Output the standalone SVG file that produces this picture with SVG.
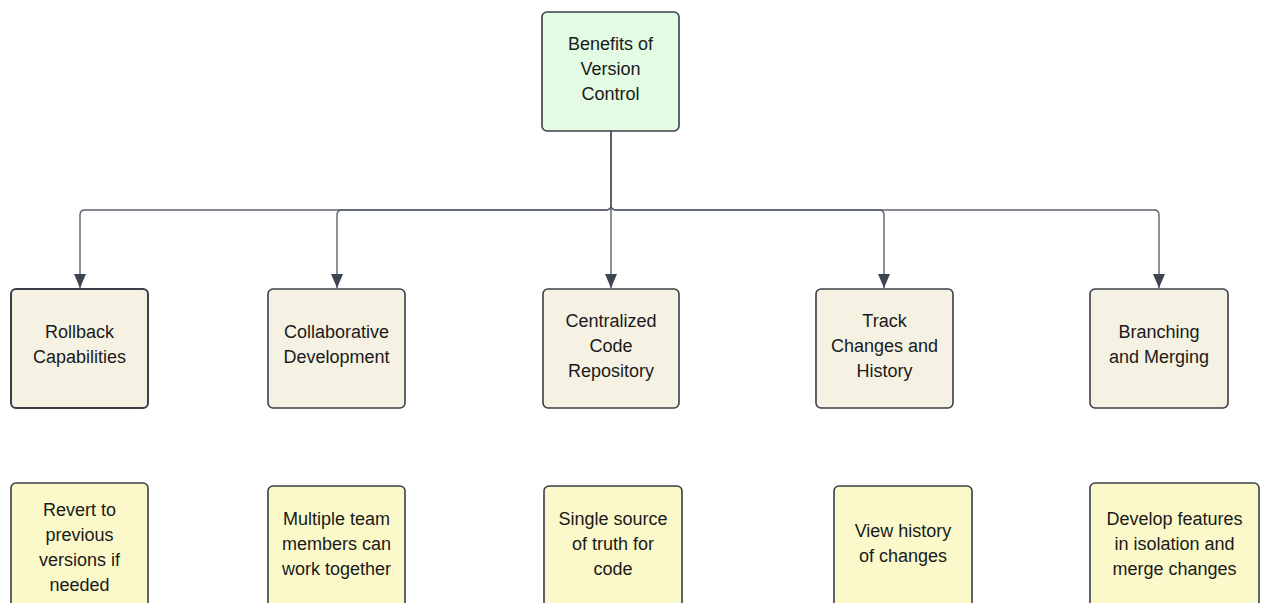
<svg xmlns="http://www.w3.org/2000/svg" width="1261" height="603" viewBox="0 0 1261 603">
<style>
.box{stroke:#3a3f47;stroke-width:1.6}
.root{fill:#e3fae3}
.mid{fill:#f5f2e3}
.leaf{fill:#fbf9c9}
.t{font-family:"Liberation Sans",Arial,sans-serif;font-size:18px;fill:#1a1a1a;text-anchor:middle}
.c{fill:none;stroke:#5a616c;stroke-width:1.4}
</style>
<defs>
<marker id="ah" markerWidth="14" markerHeight="12" refX="14" refY="6" orient="auto" markerUnits="userSpaceOnUse" viewBox="0 0 14 12">
<path d="M0,0 L14,6 L0,12 Z" fill="#3d4553"/>
</marker>
</defs>
<rect width="1261" height="603" fill="#ffffff"/>
<g id="connectors">
<path class="c" d="M611,131 V205 Q611,210 606,210 H85 Q80,210 80,215 V288" marker-end="url(#ah)"/>
<path class="c" d="M611,131 V205 Q611,210 606,210 H342 Q337,210 337,215 V288" marker-end="url(#ah)"/>
<path class="c" d="M611,131 V288" marker-end="url(#ah)"/>
<path class="c" d="M611,131 V205 Q611,210 616,210 H879 Q884,210 884,215 V288" marker-end="url(#ah)"/>
<path class="c" d="M611,131 V205 Q611,210 616,210 H1154 Q1159,210 1159,215 V288" marker-end="url(#ah)"/>
</g>
<g id="root">
<rect class="box root" x="542" y="12" width="137" height="119" rx="5"/>
<text class="t" x="610.5" y="50">Benefits of</text>
<text class="t" x="610.5" y="75">Version</text>
<text class="t" x="610.5" y="100">Control</text>
</g>
<g id="rollback">
<rect class="box mid" x="11" y="289" width="137" height="119" rx="5" style="stroke-width:2"/>
<text class="t" x="79.5" y="338">Rollback</text>
<text class="t" x="79.5" y="363">Capabilities</text>
</g>
<g id="collab">
<rect class="box mid" x="268" y="289" width="137" height="119" rx="5"/>
<text class="t" x="336.5" y="338">Collaborative</text>
<text class="t" x="336.5" y="363">Development</text>
</g>
<g id="central">
<rect class="box mid" x="543" y="289" width="136" height="119" rx="5"/>
<text class="t" x="611" y="327">Centralized</text>
<text class="t" x="611" y="352">Code</text>
<text class="t" x="611" y="377">Repository</text>
</g>
<g id="track">
<rect class="box mid" x="816" y="289" width="137" height="119" rx="5"/>
<text class="t" x="884.5" y="327">Track</text>
<text class="t" x="884.5" y="352">Changes and</text>
<text class="t" x="884.5" y="377">History</text>
</g>
<g id="branching">
<rect class="box mid" x="1090" y="289" width="138" height="119" rx="5"/>
<text class="t" x="1159" y="338">Branching</text>
<text class="t" x="1159" y="363">and Merging</text>
</g>
<g id="revert">
<rect class="box leaf" x="11" y="483" width="137" height="140" rx="5"/>
<text class="t" x="79.5" y="516">Revert to</text>
<text class="t" x="79.5" y="541">previous</text>
<text class="t" x="79.5" y="566">versions if</text>
<text class="t" x="79.5" y="591">needed</text>
</g>
<g id="multiple">
<rect class="box leaf" x="268" y="486" width="137" height="140" rx="5"/>
<text class="t" x="336.5" y="525">Multiple team</text>
<text class="t" x="336.5" y="550">members can</text>
<text class="t" x="336.5" y="575">work together</text>
</g>
<g id="single">
<rect class="box leaf" x="544" y="486" width="138" height="140" rx="5"/>
<text class="t" x="613" y="525">Single source</text>
<text class="t" x="613" y="550">of truth for</text>
<text class="t" x="613" y="575">code</text>
</g>
<g id="view">
<rect class="box leaf" x="834" y="486" width="138" height="140" rx="5"/>
<text class="t" x="903" y="537">View history</text>
<text class="t" x="903" y="562">of changes</text>
</g>
<g id="develop">
<rect class="box leaf" x="1090" y="483" width="169" height="140" rx="5"/>
<text class="t" x="1174.5" y="525">Develop features</text>
<text class="t" x="1174.5" y="550">in isolation and</text>
<text class="t" x="1174.5" y="575">merge changes</text>
</g>
</svg>
